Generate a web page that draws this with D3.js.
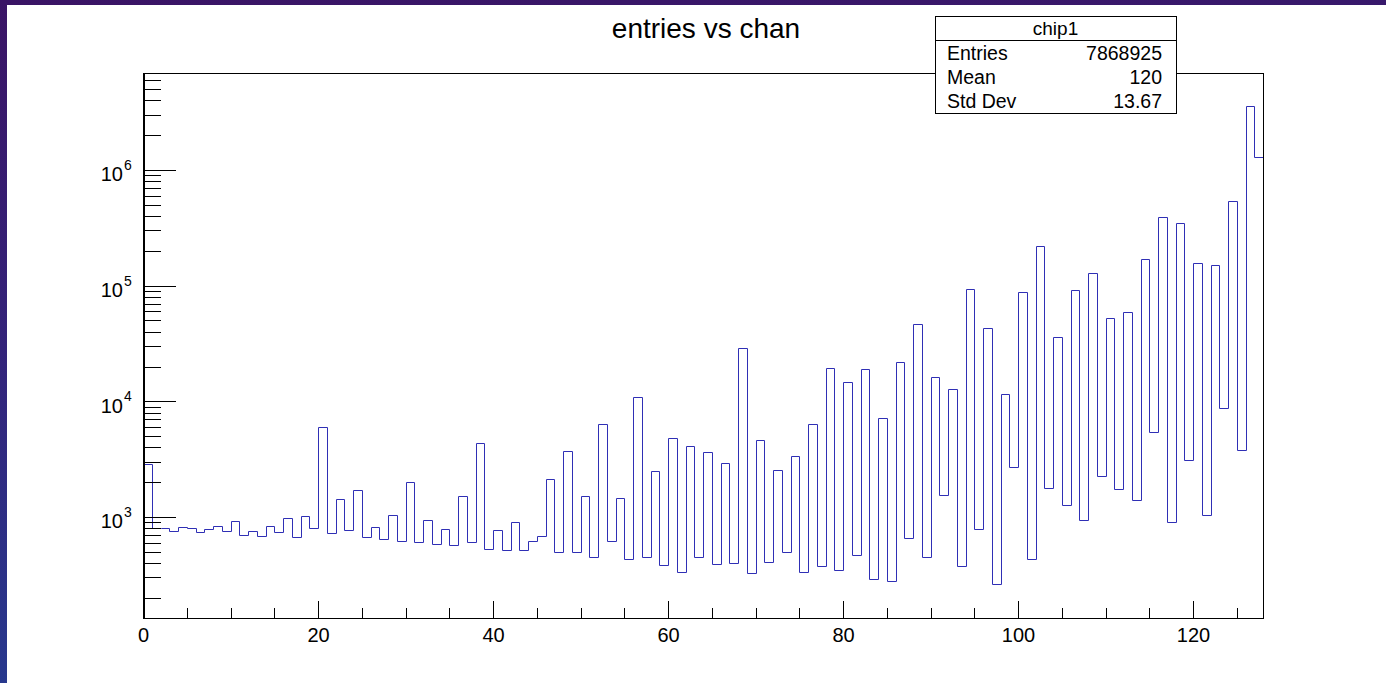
<!DOCTYPE html>
<html><head><meta charset="utf-8">
<script src="https://cdn.jsdelivr.net/npm/d3@7"></script>
<style>html,body{margin:0;padding:0;background:#fff;overflow:hidden;} svg{display:block;}</style>
</head><body>
<svg id="c" width="1386" height="683"></svg>
<script>
// ---- data ----
const chartTitle = "entries vs chan";
const statsTitle = "chip1";
const statsLabels = ["Entries", "Mean", "Std Dev"];
const statsValues = ["7868925", "120", "13.67"];
const xTickLabels = [0, 20, 40, 60, 80, 100, 120];
const xMinorTicks = [5, 10, 15, 25, 30, 35, 45, 50, 55, 65, 70, 75, 85, 90, 95, 105, 110, 115, 125];
const yTickExponents = [3, 4, 5, 6];
const binRange = [0, 128];
const yRange = [133.9, 6.896e6];
const counts = [
  2850, 810, 810, 750, 825, 810, 740, 780, 840, 750,
  915, 700, 750, 690, 840, 740, 985, 675, 1025, 805,
  6000, 725, 1420, 770, 1700, 665, 825, 645, 1045, 615,
  2020, 605, 935, 580, 790, 570, 1520, 605, 4330, 530,
  770, 520, 900, 520, 615, 685, 2140, 495, 3720, 495,
  1520, 450, 6330, 620, 1450, 435, 10800, 455, 2520, 385,
  4820, 335, 4130, 455, 3650, 395, 2910, 400, 28700, 330,
  4600, 405, 2550, 495, 3390, 335, 6410, 375, 19500, 350,
  14700, 470, 19100, 293, 7130, 280, 21700, 660, 46900, 450,
  16300, 1550, 12900, 375, 94000, 790, 42800, 264, 11600, 2680,
  88000, 435, 221000, 1770, 36000, 1275, 92000, 936, 127700, 2240,
  52100, 1730, 59500, 1415, 168700, 5400, 395000, 905, 349000, 3130,
  158000, 1047, 151000, 8790, 541000, 3820, 3600000, 1300000
];

// ---- layout ----
const W = 1386, H = 683;
const frame = {left: 143, right: 1263, top: 73, bottom: 618};
const font = "'Liberation Sans', Arial, Helvetica, sans-serif";

const svg = d3.select("#c");
const defs = svg.append("defs");
const grad = defs.append("linearGradient").attr("id", "bg")
  .attr("x1", "0").attr("y1", "0").attr("x2", "0.15").attr("y2", "1");
grad.append("stop").attr("offset", "0").attr("stop-color", "#3a1465");
grad.append("stop").attr("offset", "0.5").attr("stop-color", "#33237a");
grad.append("stop").attr("offset", "1").attr("stop-color", "#27398e");
svg.append("rect").attr("width", W).attr("height", H).attr("fill", "url(#bg)");
svg.append("rect").attr("x", 7).attr("y", 5).attr("width", W - 7).attr("height", H - 5).attr("fill", "#ffffff");

const x = d3.scaleLinear().domain(binRange).range([frame.left, frame.right]);
const y = d3.scaleLog().domain(yRange).range([frame.bottom, frame.top]);
const px = v => Math.round(v) + 0.5;

// histogram outline (step line)
const pts = [];
counts.forEach((v, i) => { pts.push([i, v]); pts.push([i + 1, v]); });
const line = d3.line().x(d => px(x(d[0]))).y(d => px(y(Math.max(d[1], yRange[0]))));
svg.append("path").attr("d", line(pts))
  .attr("fill", "none").attr("stroke", "#2f2fb5").attr("stroke-width", 1);

// frame
svg.append("rect")
  .attr("x", frame.left).attr("y", frame.top)
  .attr("width", frame.right - frame.left).attr("height", frame.bottom - frame.top)
  .attr("fill", "none").attr("stroke", "#000").attr("stroke-width", 1)
  .attr("shape-rendering", "crispEdges");

// x axis
const gx = svg.append("g").attr("transform", `translate(0,${frame.bottom})`)
  .attr("shape-rendering", "crispEdges");
gx.call(d3.axisBottom(x).tickValues(xTickLabels).tickSize(-17).tickSizeOuter(0).tickPadding(10).tickFormat(d3.format("d")));
const gx2 = svg.append("g").attr("transform", `translate(0,${frame.bottom})`)
  .attr("shape-rendering", "crispEdges");
gx2.call(d3.axisBottom(x).tickValues(xMinorTicks).tickSize(-10).tickSizeOuter(0).tickFormat(""));
gx2.select(".domain").remove();
[gx, gx2].forEach(g => {
  g.selectAll("line").attr("stroke", "#000");
  g.select(".domain").attr("stroke", "#000").attr("stroke-width", 1.5);
  g.selectAll("text").attr("font-family", font).attr("font-size", 20).attr("fill", "#000");
});

// y axis
const yMinor = [];
for (let e = 2; e <= 6; e++) for (let k = 2; k <= 9; k++) {
  const v = k * Math.pow(10, e);
  if (v >= yRange[0] && v <= yRange[1]) yMinor.push(v);
}
const yMajor = yTickExponents.map(e => Math.pow(10, e));
const gy = svg.append("g").attr("transform", `translate(${frame.left},0)`)
  .attr("shape-rendering", "crispEdges");
gy.call(d3.axisLeft(y).tickValues(yMajor).tickSize(-33).tickSizeOuter(0).tickFormat(""));
const gy2 = svg.append("g").attr("transform", `translate(${frame.left},0)`)
  .attr("shape-rendering", "crispEdges");
gy2.call(d3.axisLeft(y).tickValues(yMinor).tickSize(-18).tickSizeOuter(0).tickFormat(""));
gy2.select(".domain").remove();
gy.selectAll("line").attr("stroke", "#000");
gy2.selectAll("line").attr("stroke", "#000");
gy.select(".domain").attr("stroke", "#000").attr("stroke-width", 2);

// y labels 10^n
const lab = svg.append("g").attr("font-family", font).attr("fill", "#000");
yTickExponents.forEach(e => {
  const ty = y(Math.pow(10, e));
  lab.append("text").attr("x", 123).attr("y", ty + 11.5).attr("text-anchor", "end")
    .attr("font-size", 20).text("10");
  lab.append("text").attr("x", 124).attr("y", ty).attr("font-size", 14).text(String(e));
});

// title
svg.append("text").attr("x", 706).attr("y", 38).attr("text-anchor", "middle")
  .attr("font-family", font).attr("font-size", 28).attr("fill", "#000").text(chartTitle);

// stats box
const sb = {x: 935, y: 16, w: 241, h: 97, sep: 40.5};
const gs = svg.append("g").attr("font-family", font).attr("fill", "#000");
gs.append("rect").attr("x", sb.x + 0.5).attr("y", sb.y + 0.5).attr("width", sb.w).attr("height", sb.h)
  .attr("fill", "#fff").attr("stroke", "#000").attr("stroke-width", 1);
gs.append("line").attr("x1", sb.x).attr("x2", sb.x + sb.w).attr("y1", sb.sep).attr("y2", sb.sep)
  .attr("stroke", "#000").attr("stroke-width", 1);
gs.append("text").attr("x", sb.x + sb.w / 2).attr("y", 34.5).attr("text-anchor", "middle")
  .attr("font-size", 19).text(statsTitle);
statsLabels.forEach((l, i) => {
  const by = 60 + i * 24;
  gs.append("text").attr("x", 947).attr("y", by).attr("font-size", 19.5).text(l);
  gs.append("text").attr("x", 1162).attr("y", by).attr("text-anchor", "end").attr("font-size", 19.5).text(statsValues[i]);
});
</script>
</body></html>
